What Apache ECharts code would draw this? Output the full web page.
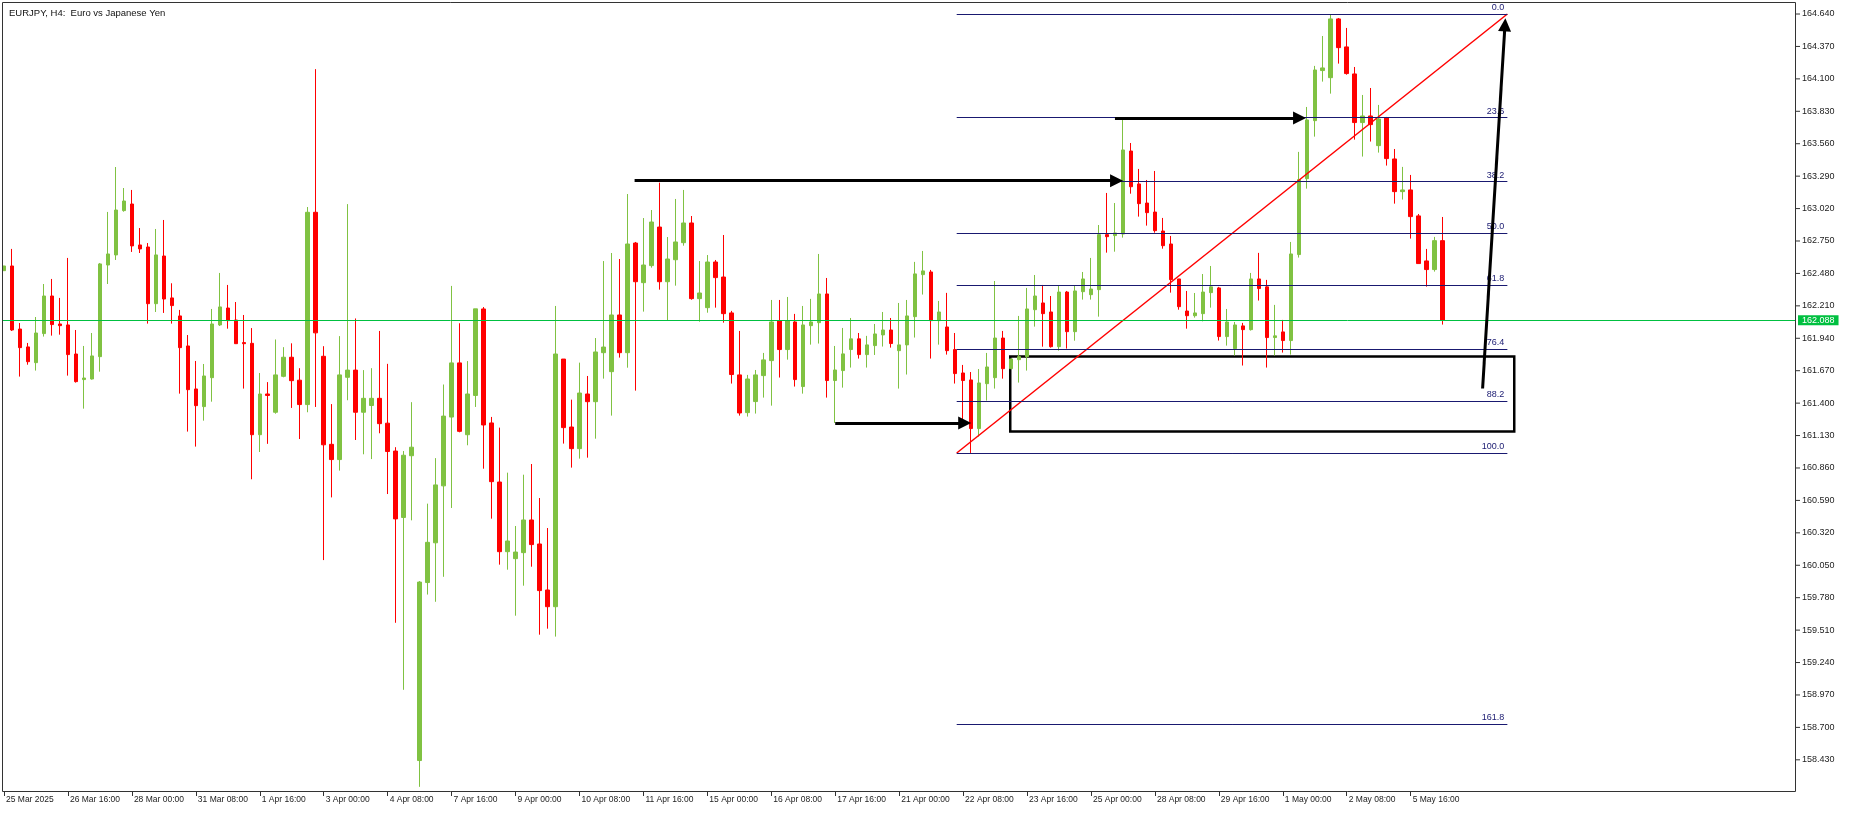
<!DOCTYPE html>
<html><head><meta charset="utf-8">
<script src="https://cdn.jsdelivr.net/npm/echarts@6/dist/echarts.min.js"></script>
<style>html,body{margin:0;padding:0;background:#fff;}#c{width:1849px;height:813px;}</style>
</head><body><div id="c"></div>
<script>
// ---- data ----
const tickLabels = ['25 Mar 2025','26 Mar 16:00','28 Mar 00:00','31 Mar 08:00','1 Apr 16:00','3 Apr 00:00','4 Apr 08:00','7 Apr 16:00','9 Apr 00:00','10 Apr 08:00','11 Apr 16:00','15 Apr 00:00','16 Apr 08:00','17 Apr 16:00','21 Apr 00:00','22 Apr 08:00','23 Apr 16:00','25 Apr 00:00','28 Apr 08:00','29 Apr 16:00','1 May 00:00','2 May 08:00','5 May 16:00'];
const priceTicks = [164.64,164.37,164.10,163.83,163.56,163.29,163.02,162.75,162.48,162.21,161.94,161.67,161.40,161.13,160.86,160.59,160.32,160.05,159.78,159.51,159.24,158.97,158.70,158.43];
const opens = [162.503,162.542,162.017,161.868,161.737,161.979,162.292,162.059,162.051,161.809,161.596,161.601,161.787,162.550,162.634,163.003,163.058,162.717,162.700,162.228,162.625,162.276,162.126,161.876,161.518,161.371,161.612,162.051,162.192,162.092,161.904,161.898,161.137,161.476,161.324,161.623,161.782,161.591,161.388,162.989,161.790,161.057,160.930,161.615,161.675,161.324,161.380,161.440,161.233,161.001,160.448,160.962,158.424,159.906,160.237,160.711,161.284,161.735,161.137,161.464,162.184,161.235,160.743,160.163,160.105,160.155,160.427,160.227,159.844,159.705,161.767,161.201,161.021,161.476,161.412,161.820,161.662,162.134,161.820,162.733,162.403,162.545,162.866,162.411,162.594,162.736,162.900,162.270,162.195,162.575,162.450,162.151,161.635,161.321,161.413,161.629,161.754,162.087,161.846,162.076,161.538,162.045,162.070,162.309,161.588,161.671,161.846,161.935,161.804,161.879,161.968,162.009,161.837,161.885,162.120,162.470,162.492,162.087,162.034,161.846,161.651,161.593,161.188,161.562,161.612,161.942,161.687,161.762,161.787,162.178,162.234,162.159,161.870,162.325,161.995,162.328,162.303,162.345,162.803,162.795,162.808,163.499,163.225,163.066,162.991,162.833,162.725,162.434,162.167,162.128,162.145,162.320,162.359,161.954,161.854,162.043,162.012,162.434,162.368,161.946,161.993,161.921,162.637,163.269,163.752,164.169,164.110,164.599,164.366,164.141,163.736,163.791,163.544,163.775,163.433,163.161,163.175,162.959,162.584,162.512,162.753];
const closes = [162.542,162.009,161.862,161.745,161.984,162.292,162.054,162.045,161.804,161.579,161.609,161.793,162.559,162.642,163.008,163.083,162.709,162.684,162.228,162.634,162.267,162.212,161.862,161.512,161.379,161.626,162.059,162.201,162.087,161.895,161.895,161.137,161.476,161.464,161.635,161.782,161.587,161.388,162.989,161.985,161.053,160.930,161.635,161.675,161.324,161.440,161.440,161.229,160.997,160.436,160.966,161.033,159.910,160.241,160.719,161.292,161.735,161.165,161.476,162.185,161.218,160.746,160.163,160.252,160.160,160.427,160.222,159.839,159.705,161.809,161.196,161.021,161.484,161.412,161.826,161.867,162.134,161.820,162.725,162.411,162.550,162.908,162.411,162.600,162.742,162.900,162.270,162.317,162.575,162.445,162.145,161.638,161.318,161.601,161.635,161.760,162.076,161.846,162.087,161.596,162.051,162.076,162.309,161.588,161.676,161.810,161.935,161.804,161.885,161.976,162.009,161.896,161.885,162.126,162.476,162.501,162.087,162.159,161.837,161.646,161.588,161.188,161.568,161.701,161.942,161.687,161.768,161.787,162.184,162.292,162.145,161.870,162.325,161.995,162.334,162.434,162.350,162.803,162.786,162.817,163.508,163.202,163.061,162.986,162.836,162.711,162.428,162.203,162.128,162.151,162.325,162.368,161.954,162.076,162.051,162.012,162.434,162.354,161.946,161.960,161.921,162.642,163.261,163.758,164.174,164.191,164.599,164.360,164.144,163.736,163.791,163.719,163.766,163.436,163.161,163.175,162.953,162.562,162.512,162.753,162.088];
const lows = [162.503,162.001,161.621,161.720,161.671,161.954,161.962,161.970,161.629,161.571,161.354,161.596,161.662,162.392,162.592,162.994,162.659,162.650,162.062,162.159,162.151,162.062,161.479,161.163,161.038,161.254,161.412,162.042,162.020,161.895,161.521,160.766,160.993,161.061,161.312,161.615,161.360,161.101,161.324,161.368,160.093,160.615,160.838,161.424,161.093,160.974,160.934,161.149,160.643,159.571,159.013,160.424,158.205,159.806,159.746,159.954,160.527,161.157,161.049,161.368,160.854,160.438,160.055,160.013,159.630,159.880,160.038,159.472,159.522,159.456,161.063,160.863,160.938,160.946,161.104,161.604,161.296,161.779,161.695,161.504,162.162,162.528,162.345,162.087,162.378,162.711,162.261,162.078,162.153,162.195,162.070,161.563,161.296,161.288,161.313,161.446,161.379,161.613,161.762,161.538,161.479,161.887,161.896,161.446,161.235,161.529,161.696,161.771,161.696,161.801,161.871,161.862,161.521,161.638,161.946,162.304,161.771,161.887,161.804,161.563,161.246,160.985,161.121,161.421,161.521,161.604,161.687,161.571,161.671,162.037,161.870,161.862,161.837,161.854,161.920,162.262,162.262,162.120,162.653,162.661,162.778,163.144,162.953,162.878,162.819,162.686,162.320,162.178,162.020,162.112,162.081,162.195,161.921,161.879,161.796,161.713,162.004,162.254,161.696,161.796,161.821,161.804,162.612,163.186,163.619,164.077,163.977,164.227,164.135,163.594,163.453,163.578,163.486,163.378,163.061,163.095,162.770,162.562,162.370,162.495,162.054];
const highs = [162.542,162.684,162.067,161.901,162.117,162.392,162.434,162.276,162.609,162.009,161.876,161.984,162.567,162.992,163.366,163.191,163.175,162.858,162.733,162.850,162.925,162.398,162.176,161.967,161.751,161.726,162.184,162.484,162.384,162.242,162.134,162.025,161.651,161.575,161.930,161.866,161.898,161.691,163.033,164.181,161.874,161.392,161.958,163.057,162.105,161.675,161.691,162.001,161.727,161.033,161.001,161.408,159.918,160.563,160.942,161.555,162.376,162.065,161.750,162.185,162.200,161.285,161.196,160.821,160.377,160.804,160.893,160.610,160.360,162.209,161.767,161.429,161.737,161.626,161.942,162.583,162.650,162.600,163.141,162.742,162.941,163.008,163.236,162.783,163.100,163.175,162.958,162.583,162.633,162.592,162.800,162.168,162.001,161.635,161.676,161.818,162.259,162.259,162.284,162.143,162.209,162.268,162.642,162.442,161.876,162.026,162.109,161.984,161.960,162.059,162.159,162.109,162.234,162.259,162.576,162.667,162.509,162.251,162.318,161.984,161.718,161.659,161.684,161.818,162.417,162.001,161.768,162.126,162.359,162.467,162.384,162.292,162.375,162.334,162.375,162.492,162.609,162.883,163.150,163.066,163.758,163.566,163.350,163.258,163.333,162.942,162.792,162.434,162.334,162.317,162.475,162.542,162.368,162.184,162.076,162.068,162.484,162.651,162.426,162.218,162.093,162.742,163.492,163.866,164.208,164.457,164.640,164.607,164.524,164.199,163.966,164.024,163.883,163.783,163.516,163.367,163.300,162.975,162.684,162.784,162.950];
const lastPrice = 162.088;
const fibLevels = [0, 23.6, 38.2, 50, 61.8, 76.4, 88.2, 100, 161.8];
const fibHigh = 164.640, fibLow = 160.985;
const fibFrom = 119.2, fibTo = 188.1;          // bar index of the two fib anchors
const trendLine = [[119.2, 160.985], [188.1, 164.640]];
const arrowFrom = [[78.9, 163.252], [139.0, 163.774], [104.0, 161.235], [185.0, 161.522]];
const arrowTo   = [[139.2, 163.252], [162.1, 163.774], [120.2, 161.235], [187.8, 164.550]];
const zoneCorner1 = [125.9, 161.788], zoneCorner2 = [188.96, 161.163];

// ---- chart ----
const FONT = '"Liberation Sans", Arial, sans-serif';
const SLOTS = 225, BAR = 8;
const Y_MIN = 158.162, Y_MAX = 164.740;
const GREEN = '#80c242', RED = '#ff0000', NAVY = '#191970', BID = '#00c040';
const categories = Array.from({length: SLOTS}, (_, i) => (i % 8 === 0 && i / 8 < tickLabels.length) ? tickLabels[i / 8] : '');
const hasLabel = (i, v) => v !== '' && v != null;
const candles = opens.map((o, i) => [o, closes[i], lows[i], highs[i]]);
const fibRange = fibHigh - fibLow;
const fibLines = fibLevels.map(l => {
  const p = +(fibHigh - fibRange * l / 100).toFixed(4);
  return [{coord: [fibFrom, p], name: l.toFixed(1)}, {coord: [fibTo, p]}];
});

const chart = echarts.init(document.getElementById('c'), null, {renderer: 'canvas', width: 1849, height: 813});
chart.setOption({
  animation: false,
  backgroundColor: '#ffffff',
  title: {text: 'EURJPY, H4:  Euro vs Japanese Yen', left: 4, top: 3,
    textStyle: {fontSize: 9.5, fontWeight: 'normal', color: '#111', fontFamily: FONT}},
  grid: [
    {left: -1.7, top: 2, width: SLOTS * BAR, height: 790},
    {left: 2, top: 2, width: 1794, height: 790}
  ],
  xAxis: [
    {type: 'category', gridIndex: 0, data: categories, boundaryGap: true,
     axisLine: {show: false},
     axisTick: {show: true, interval: hasLabel, alignWithLabel: true, length: 4, lineStyle: {color: '#333'}},
     axisLabel: {interval: hasLabel, align: 'left', margin: 3, fontSize: 8.5, color: '#222', fontFamily: FONT, padding: [0, 0, 0, 2]},
     splitLine: {show: false}},
    {type: 'value', gridIndex: 0, min: -0.5, max: SLOTS - 0.5, show: false},
    {type: 'value', gridIndex: 1, min: 0, max: 1, show: false}
  ],
  yAxis: [
    {type: 'value', gridIndex: 0, min: Y_MIN, max: Y_MAX, show: false, splitLine: {show: false}},
    {type: 'value', gridIndex: 1, position: 'right', min: Y_MIN, max: Y_MAX,
     splitLine: {show: false}, axisLine: {show: false}, axisTick: {show: false},
     axisLabel: {customValues: priceTicks, formatter: v => '{t|}{v|' + v.toFixed(3) + '}', margin: 0,
       rich: {t: {width: 4, height: 1, backgroundColor: '#333'},
              v: {fontSize: 9, color: '#222', fontFamily: FONT, padding: [0, 0, 0, 2]}}}}
  ],
  series: [
    {type: 'candlestick', xAxisIndex: 0, yAxisIndex: 0, data: candles, barWidth: 4, z: 2,
     itemStyle: {color: GREEN, color0: RED, borderColor: GREEN, borderColor0: RED, borderWidth: 1}},
    {type: 'line', xAxisIndex: 2, yAxisIndex: 1, data: [[0, lastPrice]], showSymbol: false, symbol: 'none', lineStyle: {opacity: 0}, z: 5,
     markLine: {silent: true, symbol: 'none', animation: false,
       data: [{yAxis: lastPrice}],
       lineStyle: {color: BID, width: 1, type: 'solid'},
       label: {show: true, position: 'end', distance: 2, formatter: lastPrice.toFixed(3),
         backgroundColor: BID, color: '#fff', padding: [1, 4, 0, 4], fontSize: 9, fontFamily: FONT}}},
    {type: 'line', xAxisIndex: 1, yAxisIndex: 0, data: [[fibFrom, fibLow]], showSymbol: false, symbol: 'none', lineStyle: {opacity: 0}, z: 3,
     markLine: {silent: true, symbol: 'none', animation: false,
       lineStyle: {color: NAVY, width: 1, type: 'solid'},
       label: {show: true, position: 'insideEndTop', formatter: '{b}', color: NAVY, fontSize: 9, fontFamily: FONT, distance: [3, 2]},
       emphasis: {disabled: true},
       data: fibLines}},
    {type: 'line', xAxisIndex: 1, yAxisIndex: 0, data: trendLine, symbol: 'none', z: 4,
     lineStyle: {color: RED, width: 1.5}},
    {type: 'line', xAxisIndex: 1, yAxisIndex: 0, data: [zoneCorner1], showSymbol: false, symbol: 'none', lineStyle: {opacity: 0}, z: 4,
     markArea: {silent: true, itemStyle: {color: 'rgba(0,0,0,0)', borderColor: '#000', borderWidth: 2.5},
       data: [[{coord: zoneCorner1}, {coord: zoneCorner2}]]}},
    {type: 'lines', coordinateSystem: 'cartesian2d', xAxisIndex: 1, yAxisIndex: 0, z: 6,
     symbol: ['none', 'triangle'], symbolSize: [12, 13],
     lineStyle: {color: '#000', width: 3, opacity: 1, curveness: 0},
     data: arrowFrom.map((f, i) => ({coords: [f, arrowTo[i]]}))}
  ],
  graphic: [{type: 'rect', silent: true, z: 100,
    shape: {x: 2.5, y: 2.5, width: 1793, height: 789},
    style: {fill: 'none', stroke: '#333', lineWidth: 1}}]
});
</script></body></html>
